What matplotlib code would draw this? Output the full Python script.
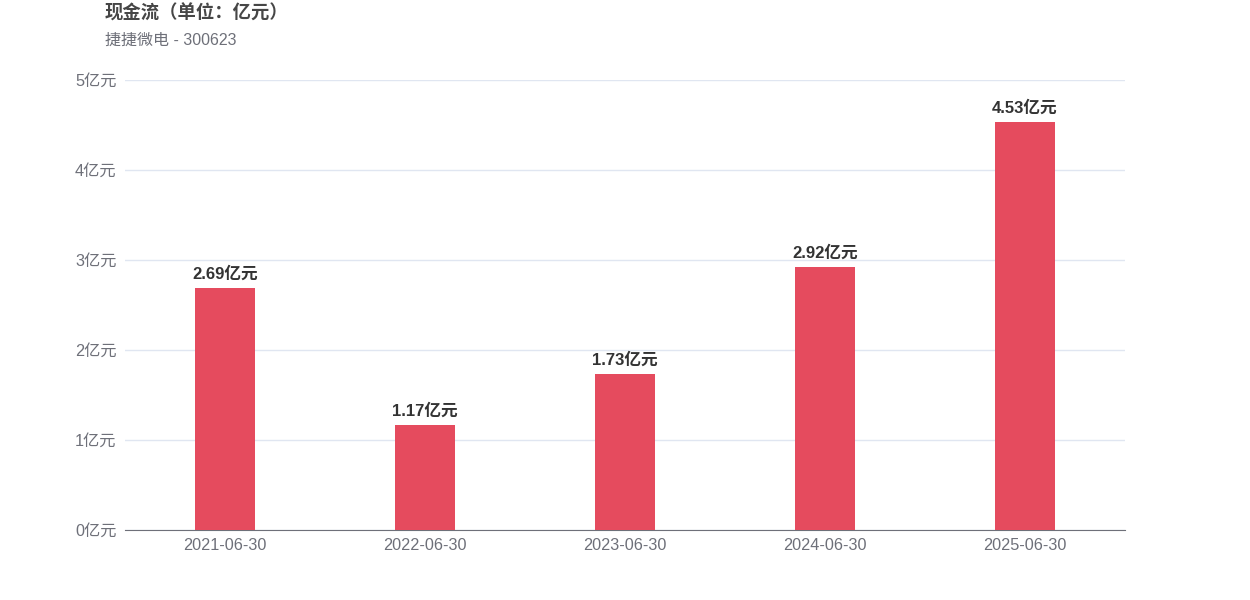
import matplotlib
matplotlib.use('Agg')
import matplotlib.pyplot as plt

plt.rcParams['font.family'] = ['Liberation Sans', 'Noto Sans CJK SC', 'DejaVu Sans']

dates = ['2021-06-30', '2022-06-30', '2023-06-30', '2024-06-30', '2025-06-30']
cash_flow = [2.69, 1.17, 1.73, 2.92, 4.53]
yticks = [0, 1, 2, 3, 4, 5]

fig = plt.figure(figsize=(12.5, 6), dpi=100)
ax = fig.add_axes([0.1, 0.1167, 0.8, 0.75])

x = range(len(dates))
ax.bar(x, cash_flow, width=0.3, color='#e54b5e', zorder=3)
for i, v in zip(x, cash_flow):
    ax.text(i, v + 0.07, f'{v:.2f}亿元', ha='center', va='bottom',
            fontsize=12, fontweight='bold', color='#333333')

ax.set_xlim(-0.5, len(dates) - 0.5)
ax.set_ylim(0, 5)
ax.set_yticks(yticks)
ax.set_yticklabels([f'{t}亿元' for t in yticks])
ax.set_xticks(list(x))
ax.set_xticklabels(dates)
ax.grid(axis='y', color='#e0e6f1', linewidth=1, zorder=0)
for s in ['top', 'right', 'left']:
    ax.spines[s].set_visible(False)
ax.spines['bottom'].set_color('#6e7079')
ax.tick_params(axis='both', length=0, labelsize=11.7, colors='#6e7079')
ax.tick_params(axis='x', pad=6)
ax.tick_params(axis='y', pad=6)

fig.text(105 / 1250, 1 - 13 / 600, '现金流（单位：亿元）', fontsize=13.2,
         fontweight='bold', color='#464646', va='center', ha='left')
fig.text(105 / 1250, 1 - 40 / 600, '捷捷微电 - 300623', fontsize=11.5,
         color='#6e7079', va='center', ha='left')

fig.savefig('out.png', dpi=100)
